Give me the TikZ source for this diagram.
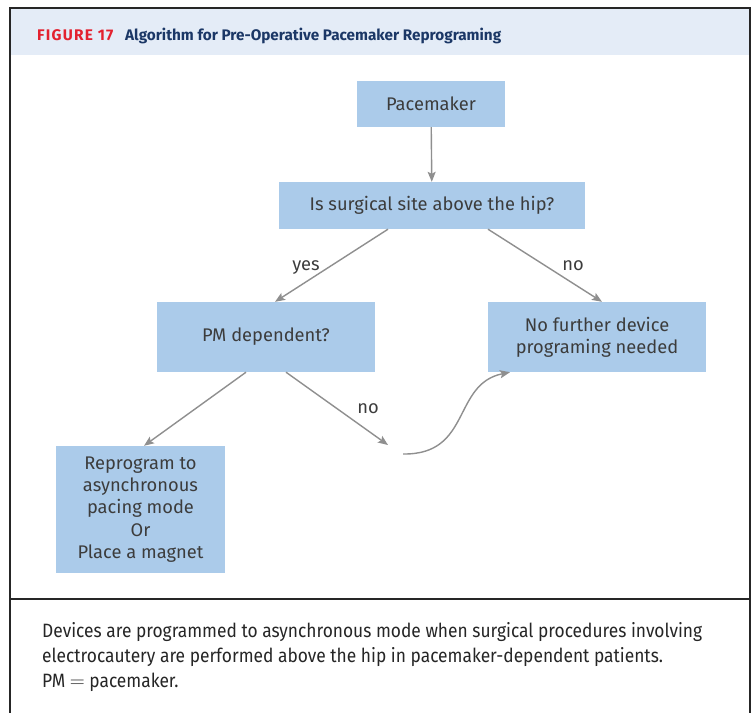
\documentclass[tikz,border=0pt]{standalone}
\usepackage{fontspec}
\setmainfont{Fira Sans}
\newfontfamily\capfont[FakeStretch=0.9]{Fira Sans}
\usetikzlibrary{arrows.meta}
\definecolor{boxblue}{HTML}{ABCBEA}
\definecolor{txtgray}{HTML}{3C3C3C}
\definecolor{arrgray}{HTML}{8F8F8F}
\definecolor{headbg}{HTML}{E4ECF7}
\definecolor{figred}{HTML}{E3212F}
\definecolor{navy}{HTML}{1B3766}
\begin{document}
\begin{tikzpicture}[x=1pt,y=-1pt,
  flowbox/.style={fill=boxblue,text=txtgray,align=center,inner sep=0pt,
     font=\fontsize{18.3}{22.3}\selectfont},
  conn/.style={draw=arrgray,line width=1.4pt,-{Stealth[length=10pt,width=8pt,inset=2pt]}},
  lbl/.style={text=txtgray,font=\fontsize{18.3}{22}\selectfont,inner sep=0pt,anchor=base},
  capline/.style={anchor=base west,inner sep=0pt,text=black!85,font=\capfont\fontsize{19.3}{24}\selectfont}]
\useasboundingbox (0,0) rectangle (756,713);
\fill[white] (0,0) rectangle (756,713);
% header band
\fill[headbg] (10,8) rectangle (750,55);
\draw[line width=1.4pt,black!85] (10,740) -- (10,8) -- (750,8) -- (750,740);
\draw[line width=1.4pt,black!85] (10,599) -- (750,599);
\node[anchor=base west,inner sep=0pt,text=figred,font=\fontsize{15.4}{16}\selectfont\bfseries\addfontfeatures{LetterSpace=8}] (fig) at (37,40) {FIGURE 17};
\node[anchor=base west,inner sep=0pt,text=navy,font=\fontsize{15.3}{18}\selectfont\bfseries] (title) at (125,40) {Algorithm for Pre-Operative Pacemaker Reprograming};
% boxes
\node[flowbox,minimum width=148pt,minimum height=46pt] (pm) at (431,104) {Pacemaker};
\node[flowbox,minimum width=306pt,minimum height=47pt] (site) at (432,205.5) {Is surgical site above the hip?};
\node[flowbox,minimum width=218pt,minimum height=70pt] (dep) at (266,337) {PM dependent?};
\node[flowbox,minimum width=218pt,minimum height=70pt] (nofur) at (597,337) {No further device\\programing needed};
\node[flowbox,minimum width=169pt,minimum height=127pt] (reprog) at (140.5,509.5) {Reprogram to\\asynchronous\\pacing mode\\Or\\Place a magnet};
% connectors
\coordinate (noend) at (388,445);
\coordinate (cs) at (403,454);
\draw[conn] (pm) -- (site);
\draw[conn] (site.south -| 388,0) -- (dep.north -| 275,0);
\draw[conn] (site.south -| 488,0) -- (nofur.north -| 602,0);
\draw[conn] (dep.south -| 246,0) -- (reprog.north -| 144,0);
\draw[conn] (dep.south -| 286,0) -- (noend);
\draw[conn] (cs) .. controls (472,455) and (452,384) .. (nofur.south west -| 510,377);
% labels
\node[lbl] (yes) at (306,270) {yes};
\node[lbl] (no1) at (573,270) {no};
\node[lbl] (no2) at (368,413) {no};
% caption
\node[capline] (cap1) at (42,637) {Devices are programmed to asynchronous mode when surgical procedures involving};
\node[capline] (cap2) at (42,662) {electrocautery are performed above the hip in pacemaker-dependent patients.};
\node[capline] (cap3) at (42,687.5) {PM $=$ pacemaker.};
\end{tikzpicture}
\end{document}
